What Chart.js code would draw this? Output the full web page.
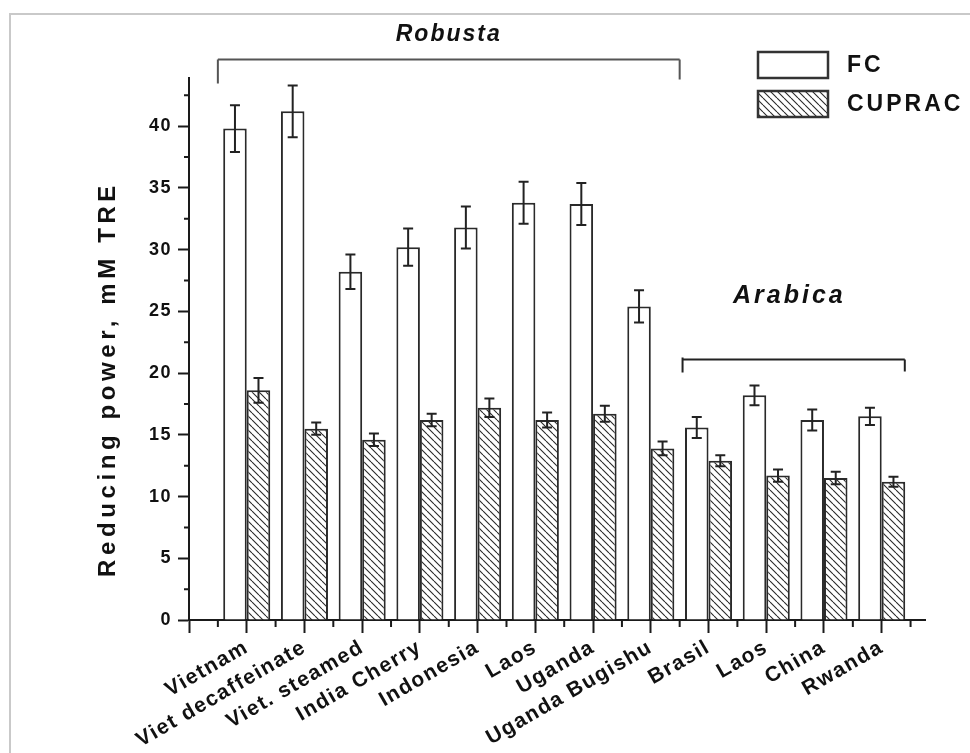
<!DOCTYPE html>
<html><head><meta charset="utf-8">
<script src="https://cdn.jsdelivr.net/npm/chart.js@4.4.1/dist/chart.umd.min.js"></script>
<style>html,body{margin:0;padding:0;background:#fff}#wrap{position:relative;width:970px;height:753px}</style>
</head><body><div id="wrap"><canvas id="c" width="970" height="753"></canvas></div>
<script>
const categories = ['Vietnam','Viet decaffeinate','Viet. steamed','India Cherry','Indonesia','Laos','Uganda','Uganda Bugishu','Brasil','Laos','China','Rwanda'];
const fcValues = [39.8, 41.2, 28.2, 30.2, 31.8, 33.8, 33.7, 25.4, 15.6, 18.2, 16.2, 16.5];
const fcErrors = [1.9, 2.1, 1.4, 1.5, 1.7, 1.7, 1.7, 1.3, 0.85, 0.8, 0.85, 0.7];
const cupracValues = [18.6, 15.5, 14.6, 16.2, 17.2, 16.2, 16.7, 13.9, 12.9, 11.7, 11.5, 11.2];
const cupracErrors = [1.0, 0.5, 0.5, 0.5, 0.75, 0.6, 0.65, 0.55, 0.45, 0.5, 0.5, 0.4];
const yTickValues = [0, 5, 10, 15, 20, 25, 30, 35, 40];
const seriesNames = ['FC', 'CUPRAC'];
const groupNames = ['Robusta', 'Arabica'];
const yTitle = 'Reducing power, mM TRE';

const FONT = '"Liberation Sans", Arial, sans-serif';
const INK = '#1a1a1a';

function hatch() {
  const s = 7, cv = document.createElement('canvas');
  cv.width = s; cv.height = s;
  const g = cv.getContext('2d');
  g.fillStyle = '#fff'; g.fillRect(0, 0, s, s);
  g.strokeStyle = '#2a2a2a'; g.lineWidth = 1.1;
  g.beginPath();
  for (let k = -1; k <= 1; k++) { g.moveTo(k * s, 0); g.lineTo(k * s + s, s); }
  g.stroke();
  return g.createPattern(cv, 'repeat');
}
const hatchPattern = hatch();

const decor = {
  id: 'decor',
  beforeDraw(chart) { chart.ctx.letterSpacing = '1.5px'; },
  afterDatasetsDraw(chart) {
    const ctx = chart.ctx, y = chart.scales.y;
    const errs = [fcErrors, cupracErrors];
    ctx.save();
    ctx.strokeStyle = '#222'; ctx.lineWidth = 2;
    chart.data.datasets.forEach((ds, di) => {
      const meta = chart.getDatasetMeta(di);
      meta.data.forEach((bar, i) => {
        const v = ds.data[i].y, e = errs[di][i];
        const yt = y.getPixelForValue(v + e), yb = y.getPixelForValue(v - e), x = bar.x;
        ctx.beginPath();
        ctx.moveTo(x, yt); ctx.lineTo(x, yb);
        ctx.moveTo(x - 5, yt); ctx.lineTo(x + 5, yt);
        ctx.moveTo(x - 5, yb); ctx.lineTo(x + 5, yb);
        ctx.stroke();
      });
    });
    ctx.restore();
  },
  afterDraw(chart) {
    const ctx = chart.ctx, x = chart.scales.x, y = chart.scales.y;
    ctx.save();
    // minor ticks
    ctx.strokeStyle = INK; ctx.lineWidth = 2;
    ctx.beginPath();
    for (let v = 2.5; v < y.max; v += 5) {
      const py = y.getPixelForValue(v);
      ctx.moveTo(x.left - 5, py); ctx.lineTo(x.left, py);
    }
    for (let v = -0.5; v < x.max; v += 1) {
      const px = x.getPixelForValue(v);
      ctx.moveTo(px, y.bottom); ctx.lineTo(px, y.bottom + 7);
    }
    ctx.stroke();
    // brackets
    const bracket = (x0, x1, yv, drop0, drop1, up0, col) => {
      const p0 = x.getPixelForValue(x0), p1 = x.getPixelForValue(x1), py = y.getPixelForValue(yv);
      ctx.strokeStyle = col; ctx.lineWidth = 2;
      ctx.beginPath();
      ctx.moveTo(p0, py - up0); ctx.lineTo(p0, py + drop0);
      ctx.moveTo(p0, py); ctx.lineTo(p1, py);
      ctx.moveTo(p1, py); ctx.lineTo(p1, py + drop1);
      ctx.stroke();
    };
    bracket(-0.5, 7.5, 45.4, 24, 20, 0, '#555');
    bracket(7.55, 11.4, 21.1, 13, 12, 2, '#222');
    // group names
    ctx.fillStyle = '#111';
    ctx.textAlign = 'center'; ctx.textBaseline = 'middle';
    ctx.font = 'italic bold 23px ' + FONT;
    ctx.letterSpacing = '2px';
    ctx.fillText(groupNames[0], x.getPixelForValue(3.5), y.getPixelForValue(47.4));
    ctx.font = 'italic bold 25px ' + FONT;
    ctx.letterSpacing = '3px';
    ctx.fillText(groupNames[1], x.getPixelForValue(9.4), y.getPixelForValue(26.2));
    // y title
    ctx.save();
    ctx.translate(108, 379);
    ctx.rotate(-Math.PI / 2);
    ctx.font = 'bold 24px ' + FONT;
    ctx.letterSpacing = '4.6px';
    ctx.fillText(yTitle, 0, 0);
    ctx.restore();
    // legend
    const fills = ['#fff', hatchPattern];
    const lx = 758, ly = [52, 91];
    ctx.textAlign = 'left';
    ctx.font = 'bold 23px ' + FONT;
    ctx.letterSpacing = '3px';
    for (let i = 0; i < 2; i++) {
      ctx.fillStyle = fills[i];
      ctx.fillRect(lx, ly[i], 70, 26);
      ctx.strokeStyle = '#333'; ctx.lineWidth = 2.5;
      ctx.strokeRect(lx, ly[i], 70, 26);
      ctx.fillStyle = '#111';
      ctx.fillText(seriesNames[i], 847, ly[i] + 14);
    }
    // frame
    ctx.strokeStyle = '#c9c9c9'; ctx.lineWidth = 2;
    ctx.beginPath(); ctx.moveTo(10, 753); ctx.lineTo(10, 14); ctx.lineTo(970, 14); ctx.stroke();
    ctx.restore();
  }
};

new Chart(document.getElementById('c'), {
  type: 'bar',
  data: {
    datasets: [
      { label: seriesNames[0], data: fcValues.map((v, i) => ({ x: i, y: v })), backgroundColor: '#fff', borderColor: '#2a2a2a', borderWidth: 2 },
      { label: seriesNames[1], data: cupracValues.map((v, i) => ({ x: i, y: v })), backgroundColor: hatchPattern, borderColor: '#2a2a2a', borderWidth: 2 }
    ]
  },
  options: {
    responsive: false, animation: false, devicePixelRatio: 1,
    layout: { padding: { top: 78, right: 45, left: 0, bottom: 0 } },
    datasets: { bar: { categoryPercentage: 0.815, barPercentage: 1, grouped: true } },
    plugins: { legend: { display: false }, tooltip: { enabled: false } },
    scales: {
      x: {
        type: 'linear', min: -1, max: 11.75, offset: false,
        afterBuildTicks: s => { s.ticks = [-1].concat(categories.map((c, i) => i)).map(v => ({ value: v })); },
        afterFit: s => { s.height = 133; },
        grid: { display: true, offset: false, drawOnChartArea: false, drawTicks: true, tickLength: 13, color: INK, tickColor: INK, tickWidth: 2 },
        border: { display: true, color: INK, width: 2 },
        ticks: {
          autoSkip: false, minRotation: 30, maxRotation: 30, padding: 2, color: '#111',
          font: { family: FONT, size: 21, weight: 'bold' },
          callback: v => (v >= 0 && v < categories.length) ? categories[v] : ''
        }
      },
      y: {
        min: 0, max: 43.9,
        afterBuildTicks: s => { s.ticks = yTickValues.map(v => ({ value: v })); },
        afterFit: s => { s.width = 189; },
        grid: { display: true, drawOnChartArea: false, drawTicks: true, tickLength: 11, color: INK, tickColor: INK, tickWidth: 2 },
        border: { display: true, color: INK, width: 2 },
        ticks: { padding: 6, color: '#111', font: { family: FONT, size: 18, weight: 'bold' } }
      }
    }
  },
  plugins: [decor]
});
</script></body></html>
